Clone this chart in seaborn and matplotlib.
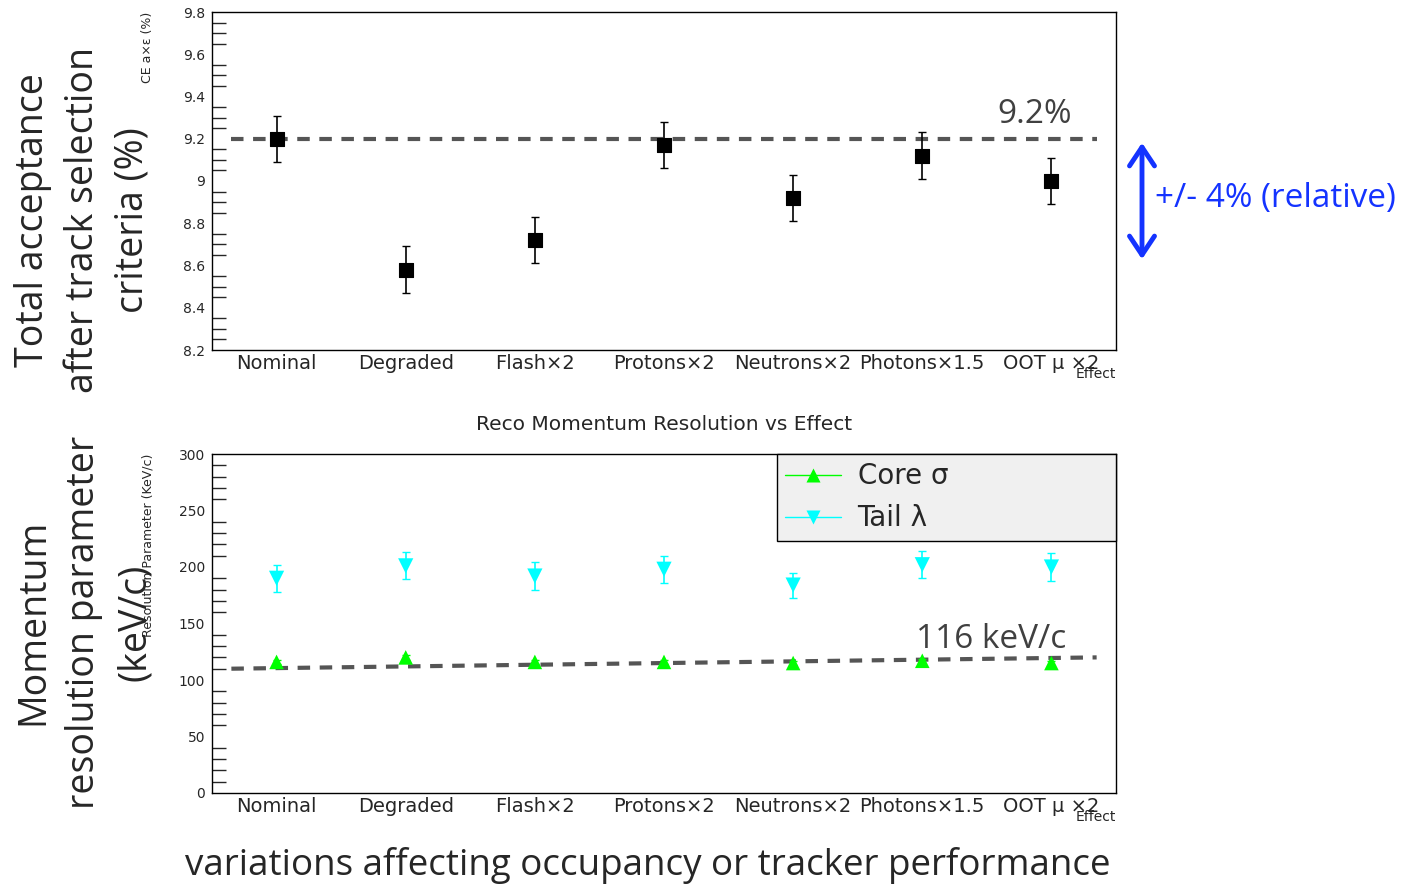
import matplotlib
matplotlib.use("Agg")
import matplotlib.pyplot as plt
from matplotlib.lines import Line2D
from matplotlib.patches import FancyArrowPatch
from matplotlib.ticker import MultipleLocator
import pandas as pd
import seaborn as sns

# data
effects = ["Nominal", "Degraded", "Flash×2", "Protons×2", "Neutrons×2", "Photons×1.5", "OOT μ ×2"]
acceptance = [9.20, 8.58, 8.72, 9.17, 8.92, 9.12, 9.00]
acceptance_err = [0.11, 0.11, 0.11, 0.11, 0.11, 0.11, 0.11]
core = [116, 120, 116, 116, 115, 117, 115]
core_err = [2, 2, 2, 2, 2, 2, 2]
tail = [190, 201, 192, 198, 184, 202, 200]
tail_err = [12, 12, 12, 12, 11, 12, 12]
acc_ref = 9.2
res_ref_x = [-0.35, 6.35]
res_ref_y = [110, 120]

df = pd.DataFrame({"effect": effects, "pos": range(len(effects)),
                   "acc": acceptance, "acc_err": acceptance_err,
                   "core": core, "core_err": core_err,
                   "tail": tail, "tail_err": tail_err})

sns.set_style("white")
plt.rcParams["font.family"] = ["DejaVu Sans"]
big = ["Open Sans", "DejaVu Sans"]
W, H = 1404, 885

fig = plt.figure(figsize=(14.04, 8.85), dpi=100)


def box(l, t, r, b):
    return [l / W, 1 - b / H, (r - l) / W, (b - t) / H]


def style(ax, major, minor, lo, hi):
    ax.set_xlim(-0.5, len(effects) - 0.5)
    ax.set_ylim(lo, hi)
    ax.set_xticks(df["pos"])
    ax.set_xticklabels(effects, fontsize=14)
    ax.yaxis.set_major_locator(MultipleLocator(major))
    ax.yaxis.set_minor_locator(MultipleLocator(minor))
    ax.tick_params(axis="y", which="major", direction="in", length=19, width=1, labelsize=10, pad=5)
    ax.tick_params(axis="y", which="minor", direction="in", length=10, width=1, left=True)
    ax.tick_params(axis="x", which="major", direction="in", length=7, width=1, pad=3)
    ax.tick_params(axis="x", which="minor", bottom=False)
    for s in ax.spines.values():
        s.set_color("black")
        s.set_linewidth(1)
    ax.set_xlabel("")
    ax.set_ylabel("")
    ax.text(1.0, -0.07, "Effect", transform=ax.transAxes, ha="right", va="center", fontsize=10)


# top panel: acceptance
ax1 = fig.add_axes(box(212, 12, 1116, 350))
ax1.plot([res_ref_x[0], res_ref_x[1]], [acc_ref, acc_ref], color="#555555", lw=3, dashes=(3, 2.3), zorder=1)
ax1.errorbar(df["pos"], df["acc"], yerr=df["acc_err"], fmt="none", ecolor="black", elinewidth=1.2, capsize=3, zorder=2)
sns.scatterplot(data=df, x="pos", y="acc", marker="s", color="black", s=100, edgecolor="black", ax=ax1, zorder=3)
style(ax1, 0.2, 0.05, 8.2, 9.8)
ax1.set_yticks([8.2, 8.4, 8.6, 8.8, 9.0, 9.2, 9.4, 9.6, 9.8])
ax1.set_yticklabels(["8.2", "8.4", "8.6", "8.8", "9", "9.2", "9.4", "9.6", "9.8"])
ax1.text(-0.071, 1.0, "CE a×ε (%)", transform=ax1.transAxes, rotation=90, ha="center", va="top", fontsize=9)
ax1.text(6.16, acc_ref + 0.035, "9.2%", ha="right", va="bottom", fontsize=24, color="#404040", family=big)

# bottom panel: momentum resolution
ax2 = fig.add_axes(box(212, 454, 1116, 793))
ax2.plot(res_ref_x, res_ref_y, color="#555555", lw=3, dashes=(3, 2.3), zorder=1)
ax2.errorbar(df["pos"], df["tail"], yerr=df["tail_err"], fmt="none", ecolor="#00ffff", elinewidth=1.2, capsize=3, zorder=2)
ax2.errorbar(df["pos"], df["core"], yerr=df["core_err"], fmt="none", ecolor="#00ff00", elinewidth=1.2, capsize=3, zorder=2)
sns.scatterplot(data=df, x="pos", y="tail", marker="v", color="#00ffff", s=120, edgecolor="none", ax=ax2, zorder=3)
sns.scatterplot(data=df, x="pos", y="core", marker="^", color="#00ff00", s=110, edgecolor="none", ax=ax2, zorder=3)
style(ax2, 50, 10, 0, 300)
ax2.set_title("Reco Momentum Resolution vs Effect", fontsize=14.5, pad=17)
ax2.text(-0.071, 1.0, "Resolution Parameter (KeV/c)", transform=ax2.transAxes, rotation=90, ha="center", va="top", fontsize=9)
ax2.text(5.53, 121, "116 keV/c", ha="center", va="bottom", fontsize=24, color="#404040", family=big)

handles = [Line2D([0], [0], color="#00ff00", lw=1, marker="^", markersize=10, markeredgecolor="none"),
           Line2D([0], [0], color="#00ffff", lw=1, marker="v", markersize=10, markeredgecolor="none")]
leg = ax2.legend(handles, ["Core σ", "Tail λ"], loc="upper left", bbox_to_anchor=(0.625, 1.0, 0.375, 0.0),
                 mode="expand", borderaxespad=0, fontsize=20, handlelength=2.0, handletextpad=0.6,
                 labelspacing=0.5, borderpad=0.3, frameon=True, fancybox=False, framealpha=1)
leg.get_frame().set_facecolor("#f0f0f0")
leg.get_frame().set_edgecolor("black")
leg.get_frame().set_linewidth(1)

# slide annotations, one text per line
top_lines = ["Total acceptance", "after track selection", "criteria (%)"]
bottom_lines = ["Momentum", "resolution parameter", "(keV/c)"]
for x, line in zip([33, 83, 133], top_lines):
    fig.text(x / W, 1 - 220 / H, line, rotation=90, ha="center", va="center", fontsize=27, family=big)
for x, line in zip([33, 84, 135], bottom_lines):
    fig.text(x / W, 1 - 622 / H, line, rotation=90, ha="center", va="center", fontsize=27, family=big)
fig.text(648 / W, 1 - 865 / H, "variations affecting occupancy or tracker performance",
         ha="center", va="center", fontsize=26.5, family=big)
fig.add_artist(FancyArrowPatch((1142 / W, 1 - 140 / H), (1142 / W, 1 - 262 / H),
                               transform=fig.transFigure, arrowstyle="<->,head_length=0.45,head_width=0.3",
                               mutation_scale=30, color="#1433ff", lw=3.5, capstyle="round", joinstyle="round"))
fig.text(1155 / W, 1 - 198 / H, "+/- 4% (relative)", ha="left", va="center", fontsize=24,
         color="#1433ff", family=big)

fig.savefig("out.png", dpi=100)
